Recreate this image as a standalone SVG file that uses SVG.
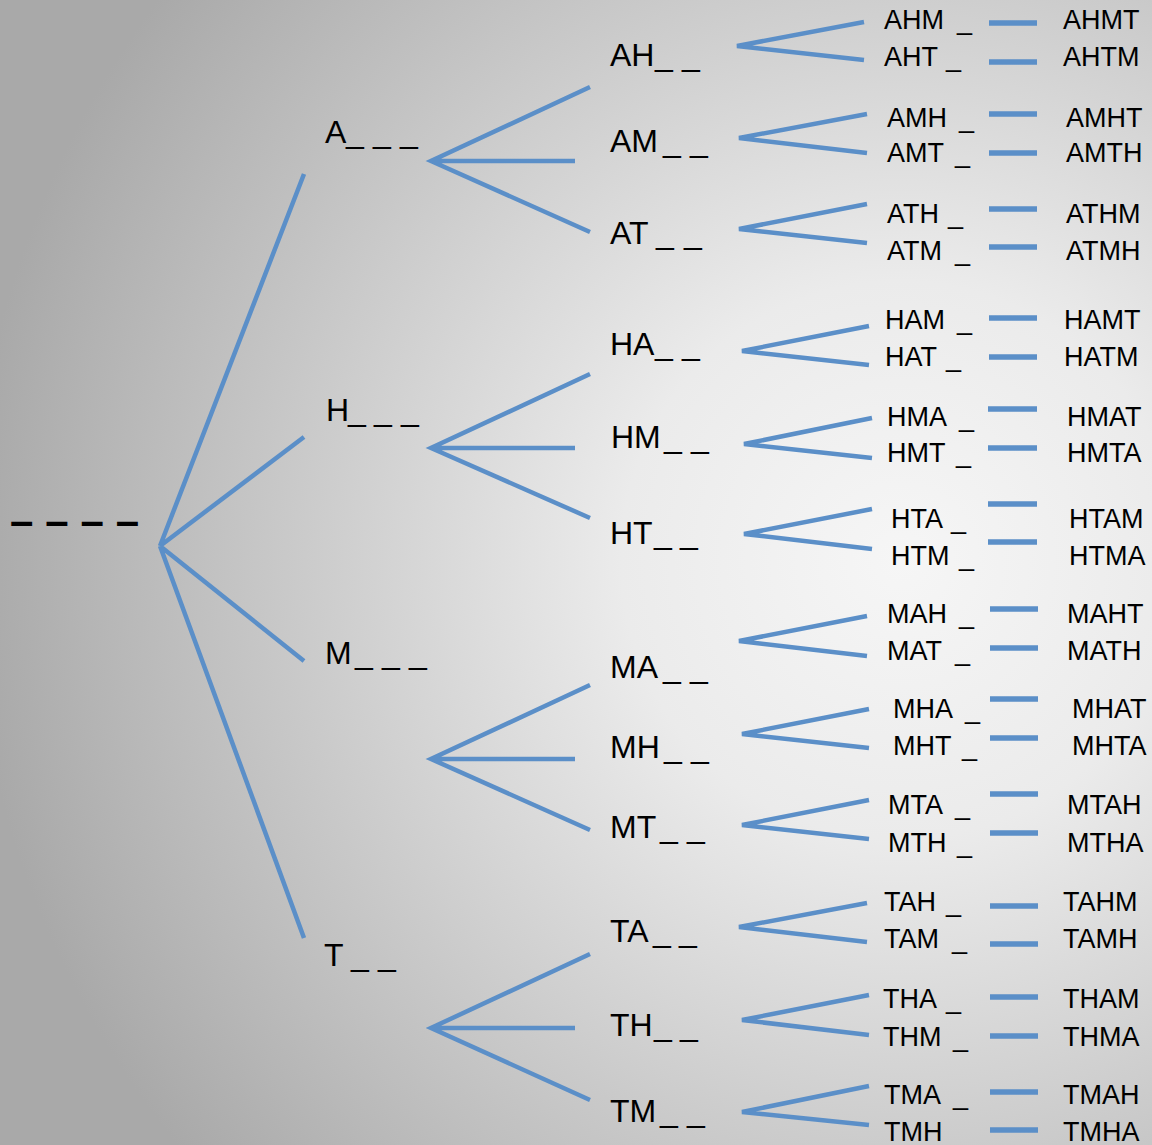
<svg xmlns="http://www.w3.org/2000/svg" width="1152" height="1145" viewBox="0 0 1152 1145">
<defs>
<radialGradient id="bg" gradientUnits="userSpaceOnUse" cx="900" cy="560" r="930">
<stop offset="0" stop-color="#f6f6f6"/>
<stop offset="0.3" stop-color="#ebebeb"/>
<stop offset="1" stop-color="#a9a9a9"/>
</radialGradient>
<style>
.e{stroke:#5b8fc8;stroke-width:4.5;fill:none}
.d{stroke:#5b8fc8;stroke-width:5.5;fill:none}
text{font-family:"Liberation Sans",Arial,sans-serif;fill:#000}
.t1{font-size:32px}
.t3{font-size:27px}
.r{font-size:42px;font-weight:bold}
</style>
</defs>
<rect width="1152" height="1145" fill="url(#bg)"/>

<g id="connectors">
<path class="e" d="M160,546 L304,174 M160,546 L304,437 M160,546 L304,661 M160,546 L304,938"/>
<path class="e" d="M590,87 L431,161 L590,232 M431,161 L575,161"/>
<path class="e" d="M590,374 L431,448 L590,518 M431,448 L575,448"/>
<path class="e" d="M590,685 L431,759 L590,830 M431,759 L575,759"/>
<path class="e" d="M590,954 L431,1028 L590,1100 M431,1028 L575,1028"/>
<path class="e" d="M864,22 L737,46 L864,60"/>
<path class="e" d="M867,114 L739,138 L867,153"/>
<path class="e" d="M867,204 L739,229 L867,243"/>
<path class="e" d="M869,326 L742,351 L869,365"/>
<path class="e" d="M872,418 L744,444 L872,458"/>
<path class="e" d="M872,509 L744,534 L872,549"/>
<path class="e" d="M867,616 L739,641 L867,656"/>
<path class="e" d="M869,709 L742,734 L869,748"/>
<path class="e" d="M869,800 L742,825 L869,839"/>
<path class="e" d="M867,903 L739,927 L867,942"/>
<path class="e" d="M869,995 L742,1020 L869,1035"/>
<path class="e" d="M869,1086 L742,1112 L869,1125"/>
<path class="d" d="M989,23H1037M989,62H1037M989,114H1037M989,153H1037M989,209H1037M989,247H1037M989,318H1037M989,357H1037M988,409H1037M988,448H1037M988,504H1037M988,542H1037M990,609H1038M990,648H1038M990,699H1038M990,738H1038M990,794H1038M990,833H1038M990,906H1038M990,944H1038M990,997H1038M990,1036H1038M990,1092H1038M990,1130H1038"/>
</g>

<g id="root"><text class="r" x="10" y="535" textLength="129" lengthAdjust="spacing">– – – –</text></g>

<g id="n-A"><text class="t1" x="325" y="143">A<tspan x="346">_</tspan> <tspan x="373">_</tspan> <tspan x="400">_</tspan></text></g>
<g id="n-H"><text class="t1" x="326" y="421">H<tspan x="348">_</tspan> <tspan x="374">_</tspan> <tspan x="401">_</tspan></text></g>
<g id="n-M"><text class="t1" x="325" y="664">M<tspan x="355">_</tspan> <tspan x="382">_</tspan> <tspan x="409">_</tspan></text></g>
<g id="n-T"><text class="t1" x="324" y="966">T <tspan x="351">_</tspan> <tspan x="378">_</tspan></text></g>

<g id="n-AH"><text class="t1" x="610" y="66">AH<tspan x="655">_</tspan> <tspan x="682">_</tspan></text></g>
<g id="n-AM"><text class="t1" x="610" y="152">AM<tspan x="663">_</tspan> <tspan x="690">_</tspan></text></g>
<g id="n-AT"><text class="t1" x="610" y="244">AT <tspan x="656">_</tspan> <tspan x="684">_</tspan></text></g>
<g id="n-HA"><text class="t1" x="610" y="355">HA<tspan x="655">_</tspan> <tspan x="682">_</tspan></text></g>
<g id="n-HM"><text class="t1" x="611" y="448">HM<tspan x="664">_</tspan> <tspan x="691">_</tspan></text></g>
<g id="n-HT"><text class="t1" x="610" y="544">HT<tspan x="654">_</tspan> <tspan x="680">_</tspan></text></g>
<g id="n-MA"><text class="t1" x="610" y="678">MA<tspan x="663">_</tspan> <tspan x="690">_</tspan></text></g>
<g id="n-MH"><text class="t1" x="610" y="758">MH<tspan x="664">_</tspan> <tspan x="691">_</tspan></text></g>
<g id="n-MT"><text class="t1" x="610" y="838">MT<tspan x="660">_</tspan> <tspan x="687">_</tspan></text></g>
<g id="n-TA"><text class="t1" x="610" y="942">TA<tspan x="653">_</tspan> <tspan x="679">_</tspan></text></g>
<g id="n-TH"><text class="t1" x="610" y="1036">TH<tspan x="654">_</tspan> <tspan x="680">_</tspan></text></g>
<g id="n-TM"><text class="t1" x="610" y="1122">TM<tspan x="660">_</tspan> <tspan x="687">_</tspan></text></g>

<g id="n-AHM"><text class="t3" x="884" y="29">AHM <tspan x="957">_</tspan></text></g>
<g id="n-AHT"><text class="t3" x="884" y="66">AHT <tspan x="946">_</tspan></text></g>
<g id="n-AMH"><text class="t3" x="887" y="127">AMH <tspan x="959">_</tspan></text></g>
<g id="n-AMT"><text class="t3" x="887" y="162">AMT <tspan x="955">_</tspan></text></g>
<g id="n-ATH"><text class="t3" x="887" y="223">ATH <tspan x="948">_</tspan></text></g>
<g id="n-ATM"><text class="t3" x="887" y="260">ATM <tspan x="955">_</tspan></text></g>
<g id="n-HAM"><text class="t3" x="885" y="329">HAM <tspan x="957">_</tspan></text></g>
<g id="n-HAT"><text class="t3" x="885" y="366">HAT <tspan x="946">_</tspan></text></g>
<g id="n-HMA"><text class="t3" x="887" y="426">HMA <tspan x="959">_</tspan></text></g>
<g id="n-HMT"><text class="t3" x="887" y="462">HMT <tspan x="956">_</tspan></text></g>
<g id="n-HTA"><text class="t3" x="891" y="528">HTA <tspan x="951">_</tspan></text></g>
<g id="n-HTM"><text class="t3" x="891" y="565">HTM <tspan x="959">_</tspan></text></g>
<g id="n-MAH"><text class="t3" x="887" y="623">MAH <tspan x="959">_</tspan></text></g>
<g id="n-MAT"><text class="t3" x="887" y="660">MAT <tspan x="955">_</tspan></text></g>
<g id="n-MHA"><text class="t3" x="893" y="718">MHA <tspan x="965">_</tspan></text></g>
<g id="n-MHT"><text class="t3" x="893" y="755">MHT <tspan x="962">_</tspan></text></g>
<g id="n-MTA"><text class="t3" x="888" y="814">MTA <tspan x="955">_</tspan></text></g>
<g id="n-MTH"><text class="t3" x="888" y="852">MTH <tspan x="957">_</tspan></text></g>
<g id="n-TAH"><text class="t3" x="884" y="911">TAH <tspan x="946">_</tspan></text></g>
<g id="n-TAM"><text class="t3" x="884" y="948">TAM <tspan x="952">_</tspan></text></g>
<g id="n-THA"><text class="t3" x="883" y="1008">THA <tspan x="946">_</tspan></text></g>
<g id="n-THM"><text class="t3" x="883" y="1046">THM <tspan x="953">_</tspan></text></g>
<g id="n-TMA"><text class="t3" x="884" y="1104">TMA <tspan x="953">_</tspan></text></g>
<g id="n-TMH"><text class="t3" x="884" y="1141">TMH</text></g>

<g id="n-AHMT"><text class="t3" x="1063" y="29">AHMT</text></g>
<g id="n-AHTM"><text class="t3" x="1063" y="66">AHTM</text></g>
<g id="n-AMHT"><text class="t3" x="1066" y="127">AMHT</text></g>
<g id="n-AMTH"><text class="t3" x="1066" y="162">AMTH</text></g>
<g id="n-ATHM"><text class="t3" x="1066" y="223">ATHM</text></g>
<g id="n-ATMH"><text class="t3" x="1066" y="260">ATMH</text></g>
<g id="n-HAMT"><text class="t3" x="1064" y="329">HAMT</text></g>
<g id="n-HATM"><text class="t3" x="1064" y="366">HATM</text></g>
<g id="n-HMAT"><text class="t3" x="1067" y="426">HMAT</text></g>
<g id="n-HMTA"><text class="t3" x="1067" y="462">HMTA</text></g>
<g id="n-HTAM"><text class="t3" x="1069" y="528">HTAM</text></g>
<g id="n-HTMA"><text class="t3" x="1069" y="565">HTMA</text></g>
<g id="n-MAHT"><text class="t3" x="1067" y="623">MAHT</text></g>
<g id="n-MATH"><text class="t3" x="1067" y="660">MATH</text></g>
<g id="n-MHAT"><text class="t3" x="1072" y="718">MHAT</text></g>
<g id="n-MHTA"><text class="t3" x="1072" y="755">MHTA</text></g>
<g id="n-MTAH"><text class="t3" x="1067" y="814">MTAH</text></g>
<g id="n-MTHA"><text class="t3" x="1067" y="852">MTHA</text></g>
<g id="n-TAHM"><text class="t3" x="1063" y="911">TAHM</text></g>
<g id="n-TAMH"><text class="t3" x="1063" y="948">TAMH</text></g>
<g id="n-THAM"><text class="t3" x="1063" y="1008">THAM</text></g>
<g id="n-THMA"><text class="t3" x="1063" y="1046">THMA</text></g>
<g id="n-TMAH"><text class="t3" x="1063" y="1104">TMAH</text></g>
<g id="n-TMHA"><text class="t3" x="1063" y="1141">TMHA</text></g>
</svg>
